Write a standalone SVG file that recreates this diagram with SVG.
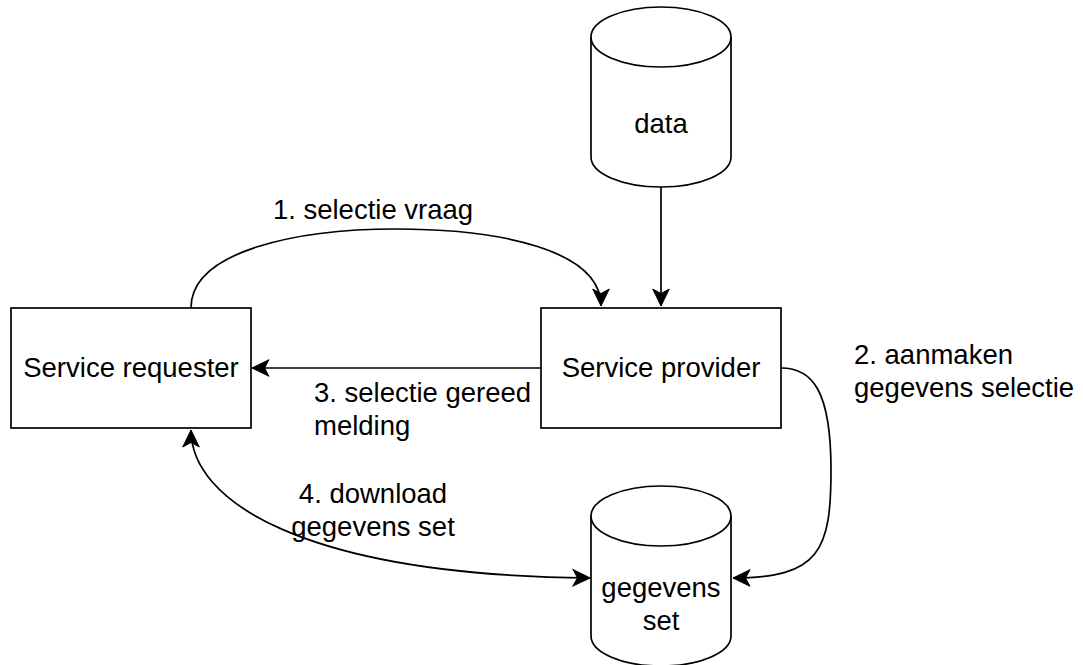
<svg xmlns="http://www.w3.org/2000/svg" width="1083" height="665" viewBox="0 0 1083 665">
<style>
.shape{fill:#ffffff;stroke:#000000;stroke-width:1.7}
.edge{fill:none;stroke:#000000;stroke-width:1.7}
text{font-family:"Liberation Sans",Arial,sans-serif;font-size:27.5px;fill:#000000}
.c{text-anchor:middle}
</style>
<defs>
<marker id="arrow" markerUnits="userSpaceOnUse" markerWidth="20" markerHeight="20" viewBox="-18 -10 20 20" refX="0" refY="0" orient="auto-start-reverse">
<path d="M0,0 L-17,-8.3 L-12.5,0 L-17,8.3 Z" fill="#000000" stroke="#000000" stroke-width="1"/>
</marker>
</defs>
<rect width="1083" height="665" fill="#ffffff"/>
<g id="connectors">
<path id="e-data-provider" class="edge" d="M661,187 L661,306" marker-end="url(#arrow)"/>
<path id="e1" class="edge" d="M191,308 C191,250 300,229 396,229 C500,229 601,250 601,306" marker-end="url(#arrow)"/>
<path id="e3" class="edge" d="M541,368 L252,368" marker-end="url(#arrow)"/>
<path id="e2" class="edge" d="M781,368 C812,368 831,390 831,470 C831,550 820,578 733,578" marker-end="url(#arrow)"/>
<path id="e4" class="edge" d="M191,430 C191,500 300,575 590,578" marker-start="url(#arrow)" marker-end="url(#arrow)"/>
<text x="373" y="219" class="c">1. selectie vraag</text>
<text x="314" y="402">3. selectie gereed</text>
<text x="314" y="435">melding</text>
<text x="854" y="364">2. aanmaken</text>
<text x="854" y="397">gegevens selectie</text>
<text x="373" y="503" class="c">4. download</text>
<text x="373" y="536" class="c">gegevens set</text>
</g>
<g id="data">
<path class="shape" d="M591,37 A70,30 0 0 1 731,37 L731,157 A70,30 0 0 1 591,157 Z"/>
<path class="shape" fill="none" d="M591,37 A70,30 0 0 0 731,37"/>
<text x="661" y="133" class="c">data</text>
</g>
<g id="service-provider">
<rect class="shape" x="541" y="308" width="240" height="120"/>
<text x="661" y="377" class="c">Service provider</text>
</g>
<g id="service-requester">
<rect class="shape" x="11" y="308" width="240" height="120"/>
<text x="131" y="377" class="c">Service requester</text>
</g>
<g id="gegevens-set">
<path class="shape" d="M591,516 A70,30 0 0 1 731,516 L731,636 A70,30 0 0 1 591,636 Z"/>
<path class="shape" d="M591,516 A70,30 0 0 0 731,516"/>
<text x="661" y="597" class="c">gegevens</text>
<text x="661" y="630" class="c">set</text>
</g>
</svg>
